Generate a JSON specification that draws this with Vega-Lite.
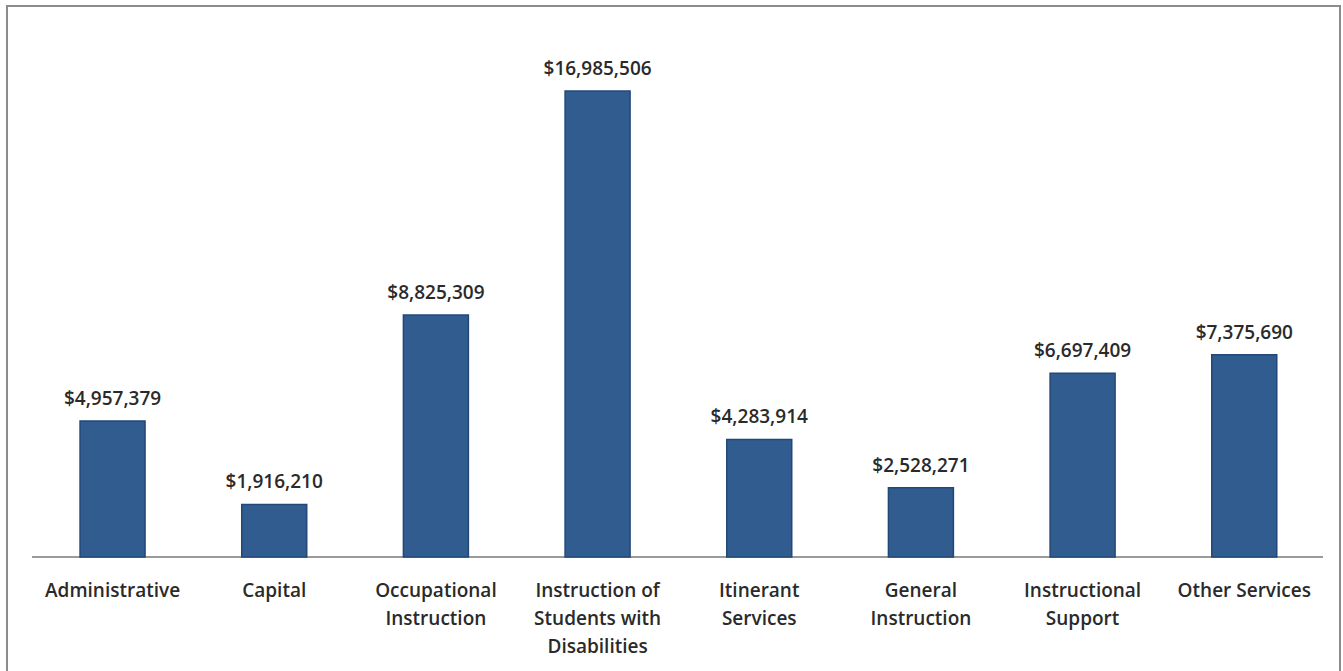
{
  "$schema": "https://vega.github.io/schema/vega-lite/v6.json",
  "autosize": {"type": "none"},
  "width": 1333,
  "height": 680,
  "padding": {"left": 7, "top": 6, "right": 3, "bottom": 0},
  "background": "white",
  "config": {"view": {"stroke": "#8c8c8c", "strokeWidth": 2}},
  "data": {
    "values": [
      {"category": "Administrative", "label": "Administrative", "amount": 4957379},
      {"category": "Capital", "label": "Capital", "amount": 1916210},
      {"category": "Occupational Instruction", "label": "Occupational\nInstruction", "amount": 8825309},
      {"category": "Instruction of Students with Disabilities", "label": "Instruction of\nStudents with\nDisabilities", "amount": 16985506},
      {"category": "Itinerant Services", "label": "Itinerant\nServices", "amount": 4283914},
      {"category": "General Instruction", "label": "General\nInstruction", "amount": 2528271},
      {"category": "Instructional Support", "label": "Instructional\nSupport", "amount": 6697409},
      {"category": "Other Services", "label": "Other Services", "amount": 7375690}
    ]
  },
  "layer": [
    {
      "mark": {"type": "rule", "color": "#9a9a9a", "strokeWidth": 2},
      "encoding": {
        "x": {"datum": 0.0188, "type": "quantitative", "scale": {"domain": [0, 1], "nice": false, "zero": false}, "axis": null},
        "x2": {"datum": 0.9872},
        "y": {"datum": 0, "type": "quantitative", "scale": {"domain": [-4701998, 20083722], "nice": false, "zero": false}, "axis": null}
      }
    },
    {
      "layer": [
        {
          "mark": {"type": "bar", "fill": "#305C8F", "stroke": "#224878", "strokeWidth": 1.5},
          "encoding": {
            "y": {"field": "amount", "type": "quantitative", "scale": {"domain": [-4701998, 20083722], "nice": false, "zero": false}, "axis": null},
            "y2": {"datum": 0}
          }
        },
        {
          "mark": {"type": "text", "font": "Open Sans", "fontSize": 19, "fontWeight": 600, "color": "#2a2a2a", "baseline": "alphabetic", "dy": -16},
          "encoding": {
            "y": {"field": "amount", "type": "quantitative", "axis": null},
            "text": {"field": "amount", "type": "quantitative", "format": "$,.0f"}
          }
        },
        {
          "mark": {"type": "text", "font": "Open Sans", "fontSize": 19, "fontWeight": 600, "color": "#2a2a2a", "baseline": "alphabetic", "dy": 40, "lineBreak": "\n", "lineHeight": 28},
          "encoding": {
            "y": {"datum": 0, "type": "quantitative", "axis": null},
            "text": {"field": "label", "type": "nominal"}
          }
        }
      ],
      "encoding": {
        "x": {
          "field": "category", "type": "nominal", "sort": null,
          "scale": {"paddingInner": 0.598, "paddingOuter": 0.4215, "align": 0.536},
          "axis": null
        }
      }
    }
  ],
  "resolve": {"scale": {"x": "independent"}}
}
